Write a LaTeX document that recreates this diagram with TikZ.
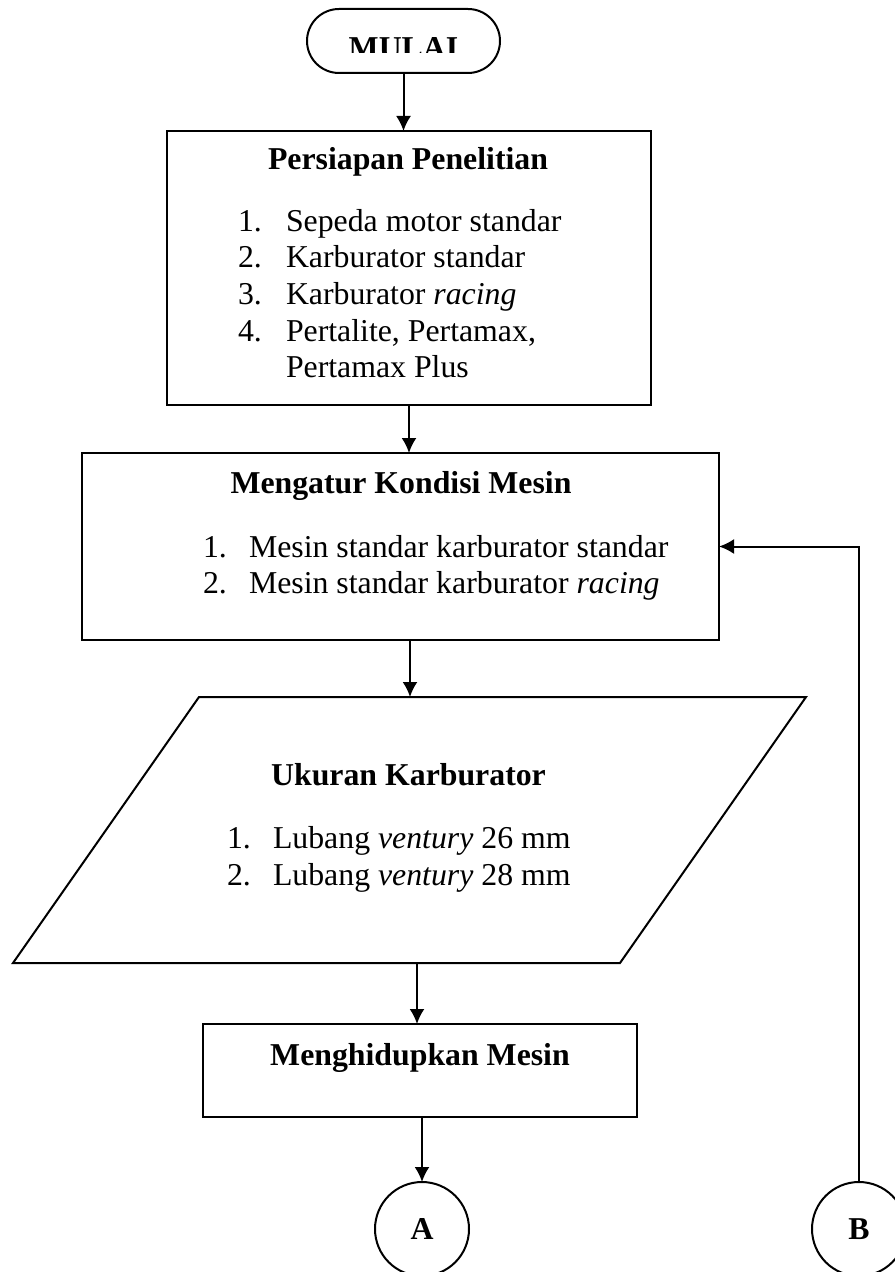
\documentclass[tikz,border=0pt]{standalone}
\usepackage{fontspec}
\setmainfont{Liberation Serif}
\usetikzlibrary{arrows.meta}

\begin{document}
\fontsize{15.9pt}{18pt}\selectfont
\begin{tikzpicture}[x=0.5pt, y=-0.5pt, line width=1pt, >={Latex[length=7.5pt,width=7.5pt]},
    proses/.style={draw, rectangle, inner sep=0pt, outer sep=0pt},
    judul/.style={anchor=base, font=\bfseries, inner sep=0pt},
    butir/.style={anchor=base west, inner sep=0pt},
    konektor/.style={draw, circle, minimum size=47pt, inner sep=0pt, outer sep=0pt, font=\bfseries}]
      \useasboundingbox (0,0) rectangle (894,1272);
      \node[draw, rectangle, rounded corners=16pt, minimum width=96.5pt, minimum height=32pt, inner sep=0pt, outer sep=0pt] (mulai) at (403.5,41) {};
      \begin{scope}
        \clip (310,12) rectangle (497,53);
        \node[judul] (mulaiteks) at (403.5,59) {MULAI};
      \end{scope}
      \node[proses, minimum width=242pt, minimum height=137pt] (siap) at (409,268) {};
      \node[proses, minimum width=318.5pt, minimum height=93.5pt] (atur) at (400.5,546.5) {};
      % ukuran karburator (jajargenjang)
      \draw (13,963) coordinate (ukurbl) -- (199,697) coordinate (ukurtl) -- (806,697) coordinate (ukurtr) -- (620,963) coordinate (ukurbr) -- cycle;
      \coordinate (ukuratas) at (410,697);
      \coordinate (ukurbawah) at (417,963);
      \node[proses, minimum width=217pt, minimum height=46.5pt] (hidup) at (420,1070.5) {};
      \node[konektor] (A) at (422,1229) {A};
      \node[konektor] (B) at (859,1229) {B};
      % persiapan
      \node[judul] (siapjudul) at (408,170) {Persiapan Penelitian};
      \node[butir] (siapn1) at (237,232) {1.};
      \node[butir] (siapn2) at (237,268) {2.};
      \node[butir] (siapn3) at (237,305) {3.};
      \node[butir] (siapn4) at (237,342) {4.};
      \node[butir] (siap1) at (285,232) {Sepeda motor standar};
      \node[butir] (siap2) at (285,268) {Karburator standar};
      \node[butir] (siap3) at (285,305) {Karburator \textit{racing}};
      \node[butir] (siap4) at (285,342) {Pertalite, Pertamax,};
      \node[butir] (siap5) at (285,378) {Pertamax Plus};
      % kondisi mesin
      \node[judul] (aturjudul) at (401,493) {Mengatur Kondisi Mesin};
      \node[butir] (aturn1) at (202,557) {1.};
      \node[butir] (aturn2) at (202,593) {2.};
      \node[butir] (atur1) at (248,557) {Mesin standar karburator standar};
      \node[butir] (atur2) at (248,593) {Mesin standar karburator \textit{racing}};
      % ukuran
      \node[judul] (ukurjudul) at (408.5,785) {Ukuran Karburator};
      \node[butir] (ukurn1) at (226,848) {1.};
      \node[butir] (ukurn2) at (226,885) {2.};
      \node[butir] (ukur1) at (272,848) {Lubang \textit{ventury} 26 mm};
      \node[butir] (ukur2) at (272,885) {Lubang \textit{ventury} 28 mm};
      % menghidupkan
      \node[judul] (hidupjudul) at (420,1065) {Menghidupkan Mesin};
      % panah
      \draw[->] (mulai.south) -- (mulai.south |- siap.north);
      \draw[->] (siap.south) -- (siap.south |- atur.north);
      \draw[->] (atur.south -| ukuratas) -- (ukuratas);
      \draw[->] (ukurbawah) -- (ukurbawah |- hidup.north);
      \draw[->] (A.north |- hidup.south) -- (A.north);
      \draw[->] (B.north) |- (atur.east);
    \end{tikzpicture}
\end{document}
